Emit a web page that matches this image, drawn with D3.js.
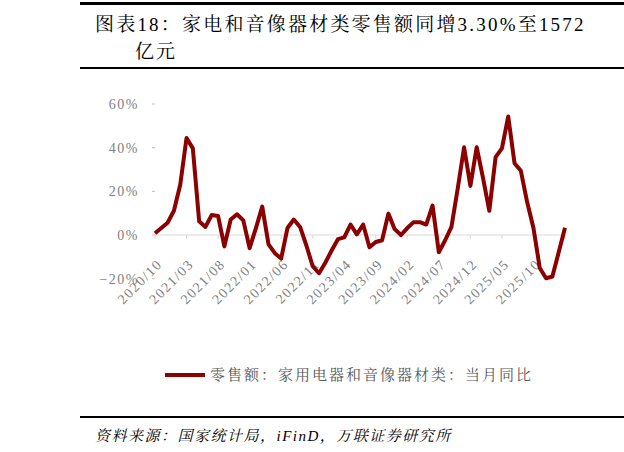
<!DOCTYPE html>
<html><head><meta charset="utf-8">
<script src="https://cdn.jsdelivr.net/npm/d3@7"></script>
<style>body{margin:0;background:#fff}</style>
</head><body>
<svg id="c" width="624" height="452"></svg>
<script>
// monthly yoy, %
var values = [0.8,3.2,5.6,11.1,23.0,44.4,39.7,6.3,3.7,9.2,8.7,-5.2,7.1,9.5,6.7,-6.0,3.2,13.0,-4.3,-8.3,-10.8,3.2,7.1,3.7,-4.8,-14.3,-17.5,-12.7,-7.1,-1.9,-1.1,4.8,0.3,4.8,-5.6,-3.2,-2.4,9.8,2.7,0,3.2,5.9,5.9,4.8,13.5,-7.9,-2.4,3.7,21.4,40.2,22.5,40.2,26.2,11.1,35.7,39.7,54.3,32.9,29.4,15.1,3.2,-15.1,-19.8,-19.0,-7.9,3.3];
var tickLabels = ["2020/10","2021/03","2021/08","2022/01","2022/06","2022/11","2023/04","2023/09","2024/02","2024/07","2024/12","2025/05","2025/10"];
var yTicks = [-20,0,20,40,60];

var svg = d3.select("#c");
var serif = "'Liberation Serif','Noto Serif CJK SC','Noto Sans CJK SC',serif";

// header / footer rules
svg.append("rect").attr("x",80).attr("y",2).attr("width",544).attr("height",3).attr("fill","#000");
svg.append("rect").attr("x",80).attr("y",67).attr("width",544).attr("height",2).attr("fill","#000");
svg.append("rect").attr("x",80).attr("y",416).attr("width",544).attr("height",2).attr("fill","#000");
svg.append("text").attr("x",95).attr("y",31).attr("font-family",serif).attr("font-size",19).attr("letter-spacing",2.2)
  .text("图表18：家电和音像器材类零售额同增3.30%至1572");
svg.append("text").attr("x",135).attr("y",58).attr("font-family",serif).attr("font-size",19).attr("letter-spacing",2).text("亿元");

var x = d3.scaleLinear().domain([0, values.length-1]).range([155,565]);
var y = d3.scaleLinear().domain([-20,60]).range([278.7,104]);

// zero line
svg.append("line").attr("x1",155).attr("x2",566).attr("y1",y(0)).attr("y2",y(0))
  .attr("stroke","#d9d9d9").attr("stroke-width",1);
// x ticks
d3.range(0, values.length, 5).concat([values.length-1]).forEach(function(i){
  svg.append("line").attr("x1",x(i)).attr("x2",x(i)).attr("y1",y(0)).attr("y2",y(0)+4).attr("stroke","#d9d9d9");
});
tickLabels.forEach(function(t,k){
  svg.append("text").attr("transform","translate("+(x(k*5)+8)+","+(y(0)+30)+") rotate(-45)")
    .attr("text-anchor","end").attr("font-family",serif).attr("font-size",14).attr("fill","#808080")
    .attr("letter-spacing",1.5).text(t);
});
// y axis labels
yTicks.forEach(function(v){
  svg.append("text").attr("x",139).attr("y",y(v)+5).attr("text-anchor","end")
    .attr("font-family",serif).attr("font-size",14).attr("fill","#808080").attr("letter-spacing",1.5)
    .text((v<0?"−":"")+Math.abs(v)+"%");
  svg.append("line").attr("x1",152).attr("x2",155).attr("y1",y(v)).attr("y2",y(v)).attr("stroke","#bfbfbf");
});

svg.append("path").datum(values)
  .attr("d", d3.line().x(function(d,i){return x(i);}).y(function(d){return y(d);}))
  .attr("fill","none").attr("stroke","#8b0000").attr("stroke-width",4).attr("stroke-linejoin","round");

// legend
svg.append("line").attr("x1",165).attr("x2",205).attr("y1",375).attr("y2",375).attr("stroke","#8b0000").attr("stroke-width",4);
svg.append("text").attr("x",210).attr("y",380).attr("font-family",serif).attr("font-size",15).attr("fill","#595959")
  .attr("letter-spacing",2).text("零售额：家用电器和音像器材类：当月同比");

svg.append("text").attr("x",95).attr("y",441).attr("font-family",serif).attr("font-size",15).attr("font-style","italic")
  .attr("letter-spacing",1.5).text("资料来源：国家统计局，iFinD，万联证券研究所");
</script>
</body></html>
